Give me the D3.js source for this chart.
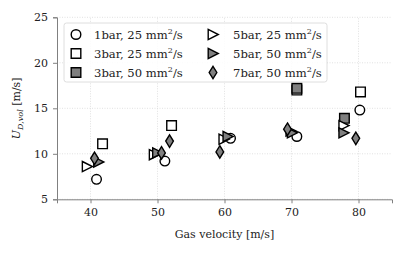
<!DOCTYPE html>
<html>
<head>
<meta charset="utf-8">
<script src="https://cdn.jsdelivr.net/npm/d3@7"></script>
<style>
  body { margin: 0; background: #fff; }
  svg { font-family: "DejaVu Serif", "Liberation Serif", serif; }
</style>
</head>
<body>
<svg id="chart" width="411" height="254"></svg>
<script>
// series: [gas velocity, U_D,vol]
const bar1_25 = [[40.9, 7.2], [51.1, 9.2], [60.9, 11.7], [70.8, 11.9], [80.2, 14.8]];
const bar3_25 = [[41.8, 11.1], [52.1, 13.1], [70.8, 17.0], [80.3, 16.8]];
const bar3_50 = [[70.8, 17.2], [77.9, 13.9]];
const bar5_25 = [[39.5, 8.6], [49.5, 9.9], [59.9, 11.6], [69.9, 12.5], [77.8, 13.1]];
const bar5_50 = [[41.2, 9.1], [50.0, 10.1], [60.5, 11.9], [70.1, 12.3], [77.8, 12.3]];
const bar7_50 = [[40.6, 9.5], [50.6, 10.1], [51.8, 11.4], [59.3, 10.2], [69.4, 12.7], [79.6, 11.7]];

const xTicks = [40, 50, 60, 70, 80];
const yTicks = [5, 10, 15, 20, 25];

const series = [
  { label: "1bar, 25", data: bar1_25, shape: "circle", fill: "#fff" },
  { label: "3bar, 25", data: bar3_25, shape: "square", fill: "#fff" },
  { label: "3bar, 50", data: bar3_50, shape: "square", fill: "#7f7f7f" },
  { label: "5bar, 25", data: bar5_25, shape: "tri", fill: "#fff" },
  { label: "5bar, 50", data: bar5_50, shape: "tri", fill: "#7f7f7f" },
  { label: "7bar, 50", data: bar7_50, shape: "diamond", fill: "#7f7f7f" },
];

const margin = { top: 17.3, right: 19, bottom: 54.7, left: 57 };
const W = 411, H = 254;
const fontSize = "11px";

const svg = d3.select("#chart");

const x = d3.scaleLinear().domain([35, 85]).range([margin.left, W - margin.right]);
const y = d3.scaleLinear().domain([5, 25]).range([H - margin.bottom, margin.top]);

// grid
const grid = svg.append("g").attr("class", "grid");
grid.selectAll(".gx").data(xTicks).join("line")
  .attr("x1", d => x(d)).attr("x2", d => x(d))
  .attr("y1", y(5)).attr("y2", y(25))
  .attr("stroke", "#d9d9d9").attr("stroke-width", 0.8)
  .attr("stroke-dasharray", "1,1.5");
grid.selectAll(".gy").data(yTicks).join("line")
  .attr("x1", x(35)).attr("x2", x(85))
  .attr("y1", d => y(d)).attr("y2", d => y(d))
  .attr("stroke", "#d9d9d9").attr("stroke-width", 0.8)
  .attr("stroke-dasharray", "1,1.5");

// axes
const xAxisG = svg.append("g")
  .attr("transform", `translate(0,${y(5)})`)
  .call(d3.axisBottom(x).tickValues(xTicks).tickSize(4).tickPadding(5));
const yAxisG = svg.append("g")
  .attr("transform", `translate(${x(35)},0)`)
  .call(d3.axisLeft(y).tickValues(yTicks).tickSize(4).tickPadding(5));

[xAxisG, yAxisG].forEach(g => {
  g.select(".domain").attr("stroke", "#808080").attr("stroke-width", 1);
  g.selectAll(".tick line").attr("stroke", "#808080");
  g.selectAll(".tick text")
    .attr("fill", "#222")
    .style("font-family", "'DejaVu Serif', serif")
    .style("font-size", fontSize);
});

// axis labels
svg.append("text")
  .attr("x", (x(35) + x(85)) / 2)
  .attr("y", 238)
  .attr("text-anchor", "middle")
  .attr("fill", "#222")
  .style("font-size", fontSize)
  .text("Gas velocity [m/s]");

const yl = svg.append("text")
  .attr("transform", `translate(20,${(y(5) + y(25)) / 2}) rotate(-90)`)
  .attr("text-anchor", "middle")
  .attr("fill", "#222")
  .style("font-size", fontSize);
yl.append("tspan").attr("font-style", "italic").text("U");
yl.append("tspan").attr("font-style", "italic").attr("font-size", "8px")
  .attr("dy", 3).text("D,vol");
yl.append("tspan").attr("dy", -3).text(" [m/s]");

// markers
function markerPath(shape) {
  const s = 4.8;
  if (shape === "square") return `M${-s},${-s}H${s}V${s}H${-s}Z`;
  if (shape === "tri") return `M${-s},${-s * 1.05}L${s * 1.1},0L${-s},${s * 1.05}Z`;
  if (shape === "diamond") return `M0,${-s * 1.3}L${s * 0.8},0L0,${s * 1.3}L${-s * 0.8},0Z`;
  return null;
}

function drawMarker(g, shape, fill) {
  if (shape === "circle") {
    g.append("circle").attr("r", 4.8)
      .attr("fill", fill).attr("stroke", "#000").attr("stroke-width", 1.4);
  } else {
    g.append("path").attr("d", markerPath(shape))
      .attr("fill", fill).attr("stroke", "#000").attr("stroke-width", 1.4)
      .attr("stroke-linejoin", "miter");
  }
}

const plot = svg.append("g");
series.forEach(s => {
  plot.selectAll(null).data(s.data).join("g")
    .attr("transform", d => `translate(${x(d[0])},${y(d[1])})`)
    .each(function () { drawMarker(d3.select(this), s.shape, s.fill); });
});

// legend
const lg = svg.append("g");
lg.append("rect")
  .attr("x", 64).attr("y", 23).attr("width", 263).attr("height", 59)
  .attr("rx", 2.5)
  .attr("fill", "#fff").attr("fill-opacity", 0.85)
  .attr("stroke", "#d6d6d6").attr("stroke-width", 0.8);

series.forEach((s, i) => {
  const col = Math.floor(i / 3), row = i % 3;
  const mx = col === 0 ? 76 : 213;
  const tx = col === 0 ? 94 : 233;
  const ry = 34.5 + row * 19;
  const m = lg.append("g").attr("transform", `translate(${mx},${ry})`);
  drawMarker(m, s.shape, s.fill);
  const t = lg.append("text")
    .attr("x", tx).attr("y", ry + 4)
    .attr("fill", "#222")
    .style("font-size", "11.6px");
  t.append("tspan").text(s.label + " mm");
  t.append("tspan").attr("font-size", "8px").attr("dy", -4.5).text("2");
  t.append("tspan").attr("dy", 4.5).text("/s");
});
</script>
</body>
</html>
